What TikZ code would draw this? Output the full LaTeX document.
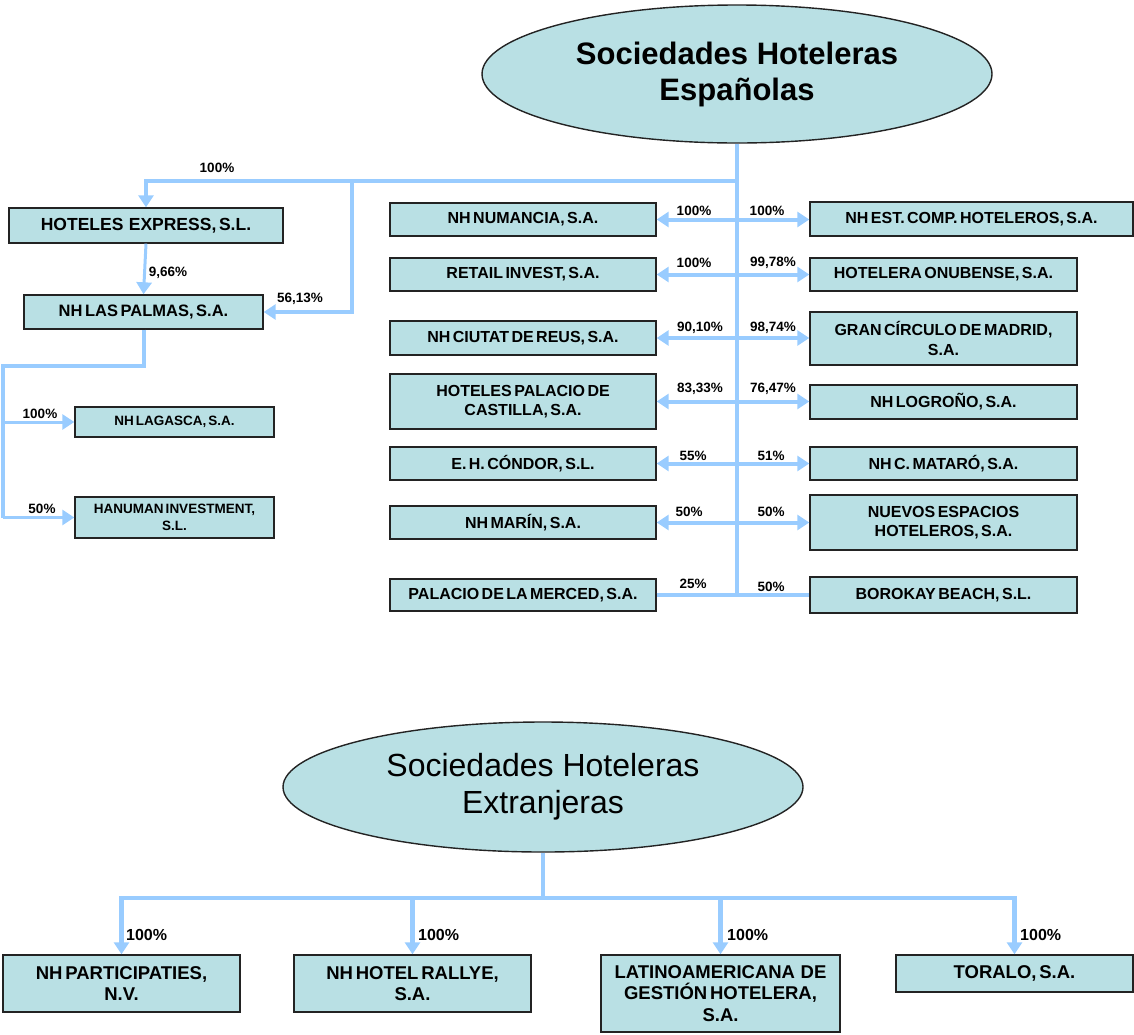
\documentclass[tikz,border=0pt]{standalone}
\usepackage{fontspec}
\setmainfont{Liberation Sans}
\newfontfamily\bxf[WordSpace=0.55]{Liberation Sans}
\usetikzlibrary{arrows.meta,shapes.geometric}
\definecolor{bfill}{RGB}{185,224,228}
\definecolor{arrc}{RGB}{153,204,255}
\definecolor{bdr}{RGB}{35,35,35}
\begin{document}
\begin{tikzpicture}[x=1pt,y=-1pt,
 box/.style={draw=bdr,fill=bfill,line width=1.4pt,inner sep=1pt,align=center,font=\bxf\bfseries\fontsize{16}{19.5}\selectfont},
 sbox/.style={box,font=\bxf\bfseries\fontsize{13.5}{17}\selectfont},
 bbox/.style={box,font=\bxf\bfseries\fontsize{18.5}{21.5}\selectfont},
 sz/.style 2 args={minimum width=#1pt,minimum height=#2pt},
 ell/.style={ellipse,draw=bdr,fill=bfill,line width=1.4pt,inner sep=0pt,align=center},
 conn/.style={draw=arrc,line width=4pt},
 thinconn/.style={draw=arrc,line width=3pt},
 bconn/.style={draw=arrc,line width=4.5pt},
 arr/.style={-{Triangle[length=12pt,width=15pt]}},
 arrb/.style={{Triangle[length=12pt,width=15pt]}-{Triangle[length=12pt,width=15pt]}},
 pct/.style={font=\bfseries\fontsize{13.5}{15}\selectfont,inner sep=0pt},
 bpct/.style={font=\bfseries\fontsize{16}{18}\selectfont,inner sep=0pt,anchor=west},
]
\useasboundingbox (0,0) rectangle (1134,1034);

% ellipses
\node[ell,minimum width=510pt,minimum height=138pt,font=\bfseries\fontsize{31}{36}\selectfont] (esp) at (737,74) {Sociedades Hoteleras\\Españolas};
\node[ell,minimum width=520pt,minimum height=130pt,font=\fontsize{32}{37}\selectfont] (ext) at (543,787) {Sociedades Hoteleras\\Extranjeras};

% left group
\node[box,sz={274}{35},font=\bxf\bfseries\fontsize{17.5}{20}\selectfont] (hexp) at (146,225.5) {HOTELES~~EXPRESS, S.L.};
\node[box,sz={239}{34},font=\bxf\bfseries\fontsize{16.5}{20}\selectfont] (lpalm) at (143.5,312) {NH LAS PALMAS, S.A.};
\node[sbox,sz={199}{30}] (lagasca) at (174.5,422) {NH LAGASCA, S.A.};
\node[sbox,sz={199}{41}] (hanuman) at (174.5,517.5) {HANUMAN INVESTMENT,\\S.L.};

% right-left column
\node[box,sz={266}{33}] (numancia) at (523,219.5) {NH NUMANCIA, S.A.};
\node[box,sz={266}{33}] (retail) at (523,274.5) {RETAIL INVEST, S.A.};
\node[box,sz={266}{34}] (reus) at (523,338) {NH CIUTAT DE REUS, S.A.};
\node[box,sz={266}{55}] (castilla) at (523,401.5) {HOTELES PALACIO DE\\CASTILLA, S.A.};
\node[box,sz={266}{33}] (condor) at (523,463.5) {E. H. CÓNDOR, S.L.};
\node[box,sz={266}{33}] (marin) at (523,522.5) {NH MARÍN, S.A.};
\node[box,sz={266}{32}] (merced) at (523,595) {PALACIO DE LA MERCED, S.A.};

% right-right column
\node[box,sz={323}{34}] (estcomp) at (971.5,219) {NH EST. COMP. HOTELEROS, S.A.};
\node[box,sz={267}{33}] (onubense) at (943.5,274.5) {HOTELERA ONUBENSE, S.A.};
\node[box,sz={267}{53}] (gran) at (943.5,338.5) {GRAN CÍRCULO DE MADRID,\\S.A.};
\node[box,sz={267}{34}] (logrono) at (943.5,402) {NH LOGROÑO, S.A.};
\node[box,sz={267}{33}] (mataro) at (943.5,463.5) {NH C. MATARÓ, S.A.};
\node[box,sz={267}{55}] (nuevos) at (943.5,522.5) {NUEVOS ESPACIOS\\HOTELEROS, S.A.};
\node[box,sz={267}{36}] (borokay) at (943.5,595) {BOROKAY BEACH, S.L.};

% bottom boxes
\node[bbox,sz={237}{57}] (partic) at (121.5,983.5) {NH PARTICIPATIES,\\N.V.};
\node[bbox,sz={237}{57}] (rallye) at (412.5,983.5) {NH HOTEL RALLYE,\\S.A.};
\node[bbox,sz={239}{77}] (latino) at (720.5,993.5) {LATINOAMERICANA~~DE\\GESTIÓN HOTELERA,\\S.A.};
\node[bbox,sz={237}{37}] (toralo) at (1014.5,973.5) {TORALO, S.A.};

% connectors top
\coordinate (j1) at (737,181);
\coordinate (j2) at (352,181);
\coordinate (jend) at (737,596);
\coordinate (j3) at (3,366);
\coordinate (j4) at (3,422);
\coordinate (j5) at (3,517.5);
\draw[conn] (esp.south) -- (jend);
\draw[conn,arr] (j1) -| (hexp.north);
\draw[conn,arr] (j2) |- (lpalm.east);
\draw[thinconn,arr] (hexp.south) -- (lpalm.north);
\draw[conn] (lpalm.south) |- (j3) -- (j5);
\draw[thinconn,arr] (j4) -- (lagasca.west);
\draw[thinconn,arr] (j5) -- (hanuman.west);

\draw[conn,arrb] (numancia.east) -- (numancia.east -| estcomp.west);
\draw[conn,arrb] (retail.east) -- (onubense.west);
\draw[conn,arrb] (reus.east) -- (reus.east -| gran.west);
\draw[conn,arrb] (castilla.east) -- (castilla.east -| logrono.west);
\draw[conn,arrb] (condor.east) -- (mataro.west);
\draw[conn,arrb] (marin.east) -- (nuevos.west);
\draw[conn] (merced.east) -- (borokay.west);

% labels top
\node[pct] (l1) at (217,168) {100\%};
\node[pct] (l2) at (168,273) {9,66\%};
\node[pct] (l3) at (300,299) {56,13\%};
\node[pct] (l4) at (40,414) {100\%};
\node[pct] (l5) at (42,509) {50\%};

\node[pct] (r1) at (694,211) {100\%};
\node[pct] (r2) at (694,263) {100\%};
\node[pct] (r3) at (700,328) {90,10\%};
\node[pct] (r4) at (700,389) {83,33\%};
\node[pct] (r5) at (693,456) {55\%};
\node[pct] (r6) at (689,512) {50\%};
\node[pct] (r7) at (693,584) {25\%};

\node[pct] (s1) at (767,211) {100\%};
\node[pct] (s2) at (773,263) {99,78\%};
\node[pct] (s3) at (773,328) {98,74\%};
\node[pct] (s4) at (773,389) {76,47\%};
\node[pct] (s5) at (771,456) {51\%};
\node[pct] (s6) at (771,512) {50\%};
\node[pct] (s7) at (771,587) {50\%};

% bottom connectors
\coordinate (k0) at (543,898);
\draw[bconn] (ext.south) -- (k0);
\draw[bconn,arr] (k0) -| (partic.north);
\draw[bconn,arr] (k0) -| (rallye.north);
\draw[bconn,arr] (k0) -| (latino.north);
\draw[bconn,arr] (k0) -| (toralo.north);

\node[bpct] (b1) at (126,935) {100\%};
\node[bpct] (b2) at (418,935) {100\%};
\node[bpct] (b3) at (727,935) {100\%};
\node[bpct] (b4) at (1020,935) {100\%};
\end{tikzpicture}
\end{document}
